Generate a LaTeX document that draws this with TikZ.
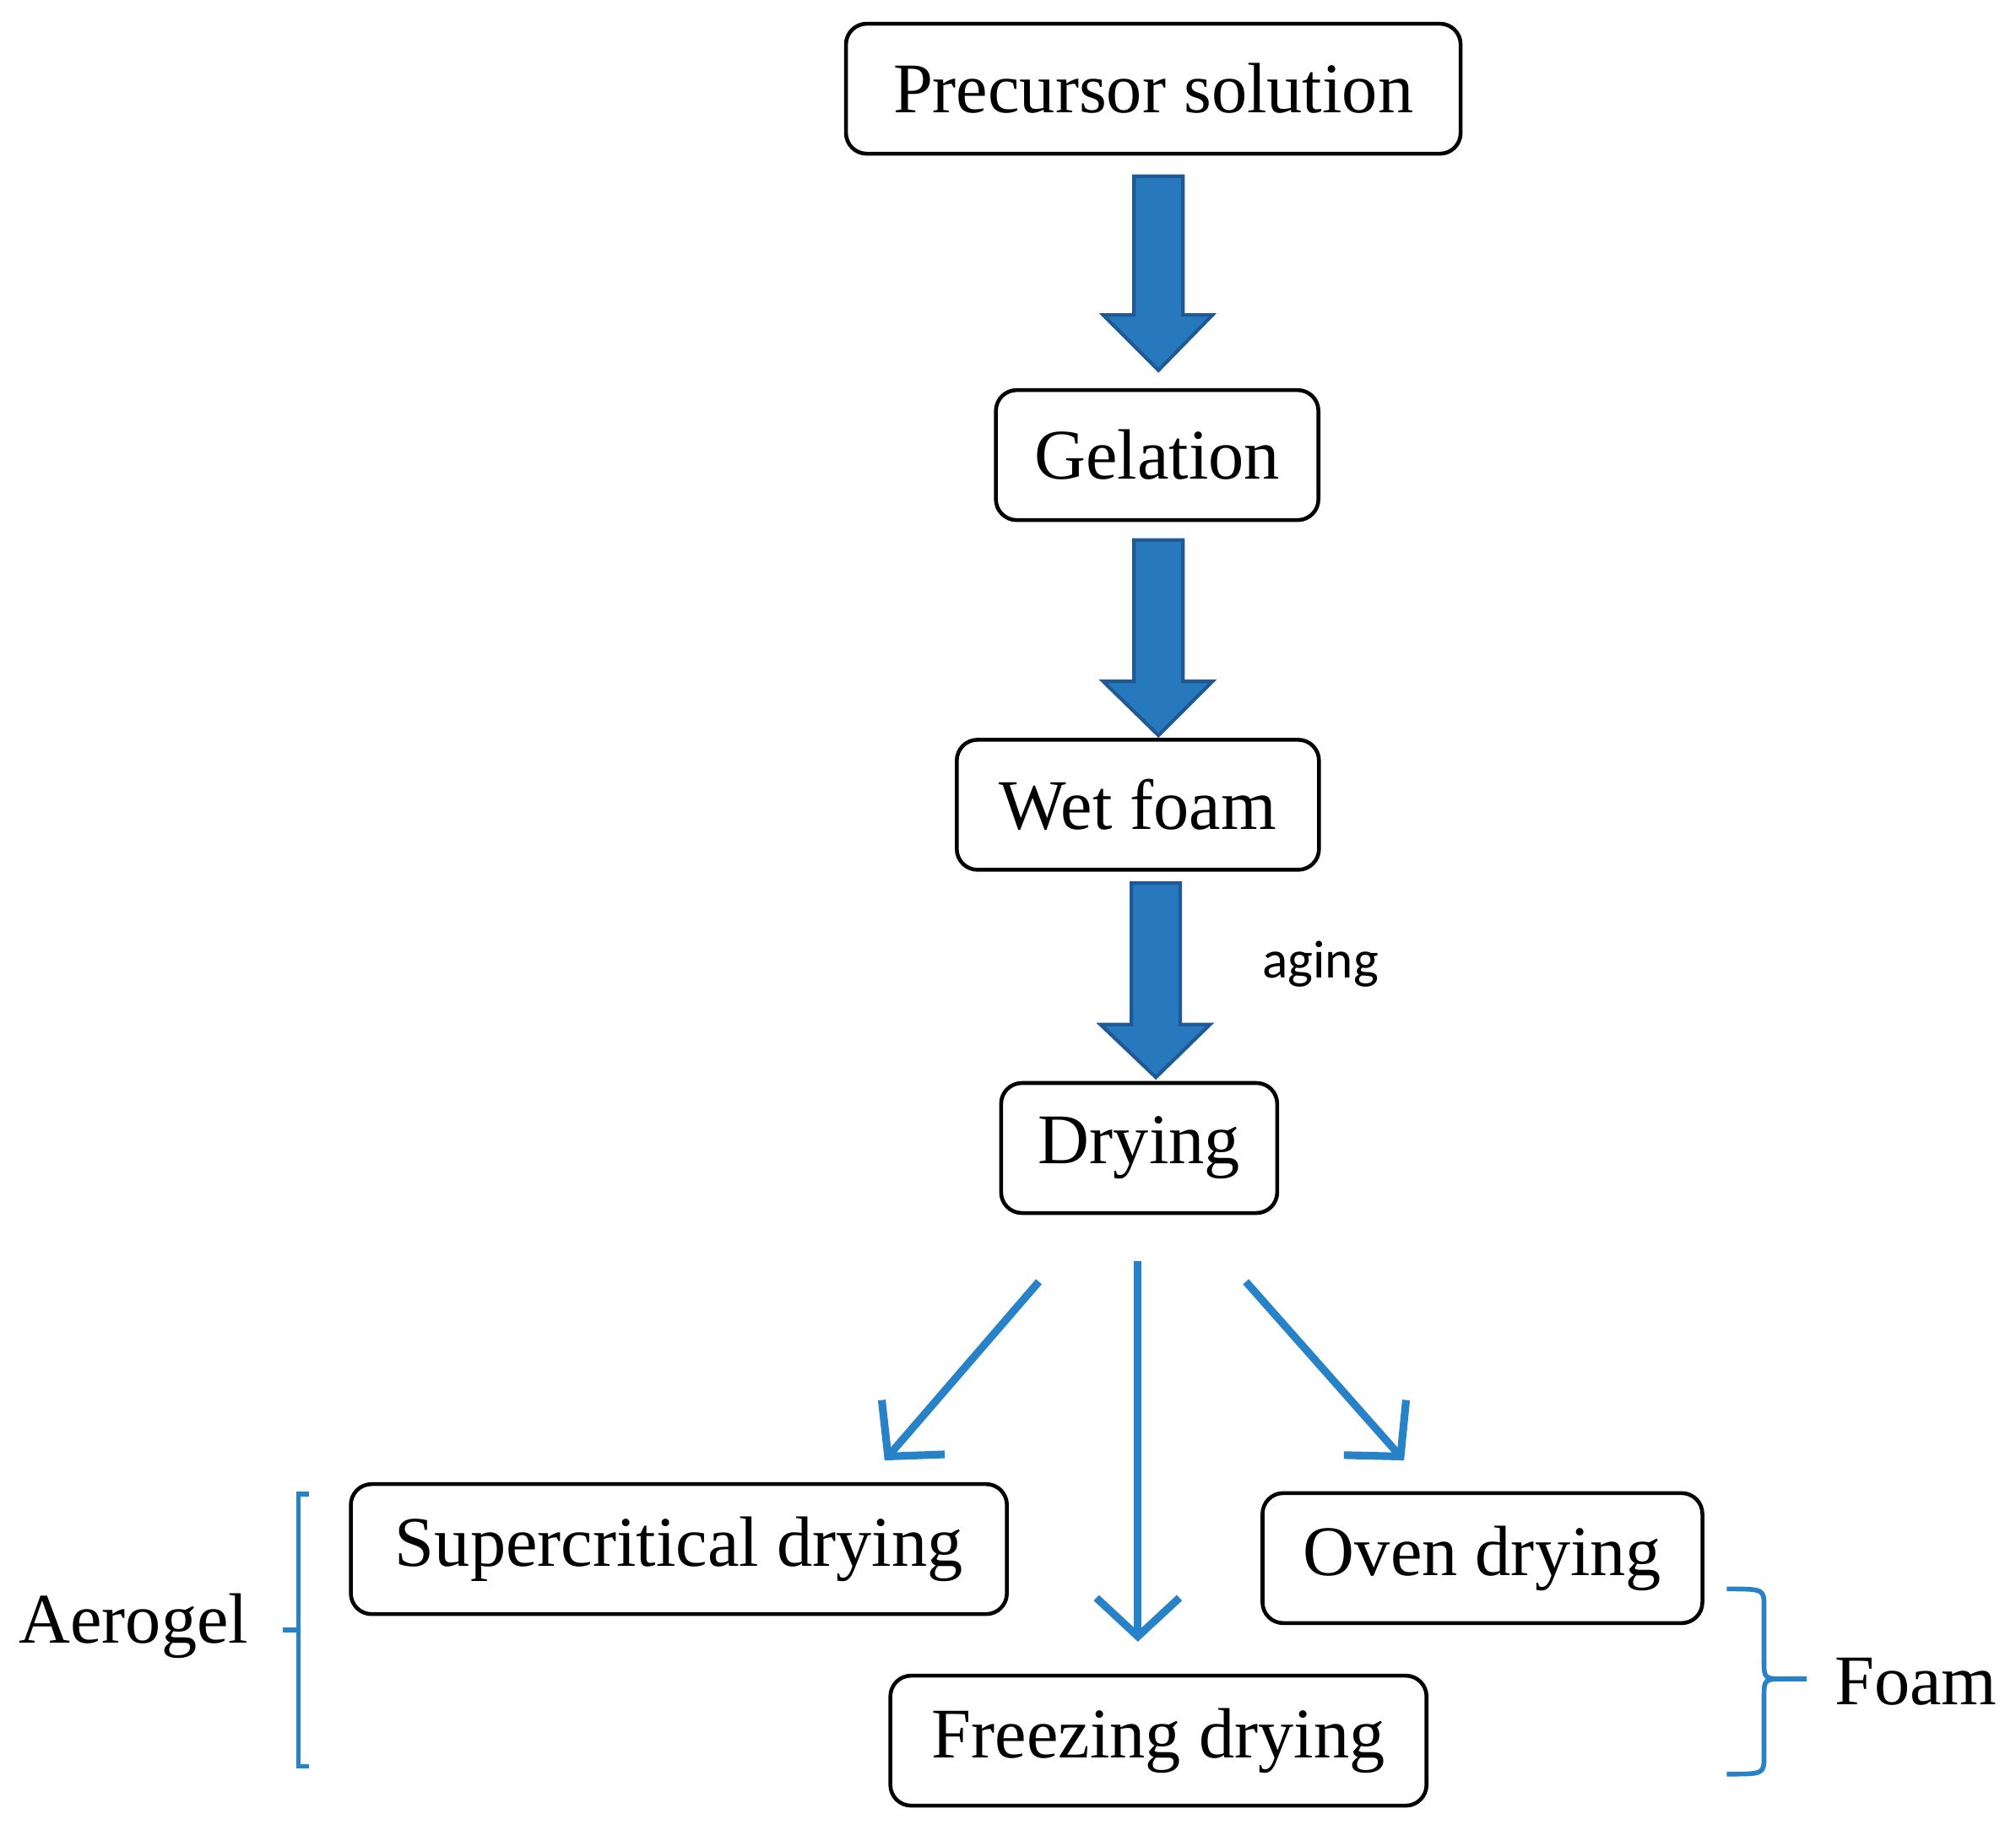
\documentclass[tikz,border=0pt]{standalone}
\usepackage{fontspec}
\setmainfont{Liberation Serif}
\newfontfamily\agingfont{Carlito}
\usetikzlibrary{arrows.meta}
\definecolor{bfill}{RGB}{40,120,190}
\definecolor{bdraw}{RGB}{30,90,150}
\definecolor{thin}{RGB}{40,130,200}
\begin{document}
\begin{tikzpicture}[x=0.01523cm,y=-0.01523cm,
 box/.style={draw,line width=1.3pt,rounded corners=7pt,minimum height=1.54cm,inner sep=0pt,font=\fontsize{24}{28}\selectfont},
 thinarr/.style={draw=thin,line width=2.6pt,-{Straight Barb[length=13pt,width=28pt,line width=2.6pt]}},
 blk/.style={fill=bfill,draw=bdraw,line width=1.2pt,line join=miter},
 brk/.style={draw=thin,line width=1.6pt}]
\useasboundingbox (0,0) rectangle (1568,1432);
\node[box,minimum width=7.28cm] (pre) at (897,69) {Precursor solution};
\node[box,minimum width=3.82cm] (gel) at (900,354) {Gelation};
\node[box,minimum width=4.29cm] (wet) at (885,626) {Wet foam};
\node[box,minimum width=3.27cm] (dry) at (886,893) {Drying};
\node[box,minimum width=7.77cm] (sup) at (528,1205) {Supercritical drying};
\node[box,minimum width=5.21cm] (oven) at (1153,1212) {Oven drying};
\node[box,minimum width=6.35cm] (frz) at (901,1354) {Freezing drying};
% block arrows
\draw[blk] (882,137) -- (920,137) -- (920,245) -- (943,245) -- (901,288) -- (858,245) -- (882,245) -- cycle;
\draw[blk] (882,420) -- (920,420) -- (920,530) -- (943,530) -- (901,572) -- (858,530) -- (882,530) -- cycle;
\draw[blk] (880,687) -- (918,687) -- (918,797) -- (941,797) -- (899,838) -- (856,797) -- (880,797) -- cycle;
\node[font=\agingfont\fontsize{18}{22}\selectfont] (aging) at (1027,750) {aging};
% thin arrows
\coordinate (a1) at (808,997); \coordinate (b1) at (688,1136);
\coordinate (a2) at (885,981); \coordinate (b2) at (885,1277);
\coordinate (a3) at (969,997); \coordinate (b3) at (1092,1136);
\draw[thinarr] (a1) -- (b1);
\draw[thinarr] (a2) -- (b2);
\draw[thinarr] (a3) -- (b3);
% left bracket
\draw[brk] (240,1162) -- (232,1162) -- (232,1374) -- (240,1374);
\draw[brk] (232,1268) -- (220,1268);
\node[font=\fontsize{24}{28}\selectfont] (aer) at (104,1265) {Aerogel};
% right brace
\draw[brk] (1343,1236) .. controls (1372,1236) .. (1372,1250) -- (1372,1292) .. controls (1372,1306) .. (1390,1306) -- (1405,1306);
\draw[brk] (1343,1380) .. controls (1372,1380) .. (1372,1366) -- (1372,1320) .. controls (1372,1306) .. (1390,1306);
\node[font=\fontsize{24}{28}\selectfont] (foam) at (1490,1308) {Foam};
\end{tikzpicture}
\end{document}
